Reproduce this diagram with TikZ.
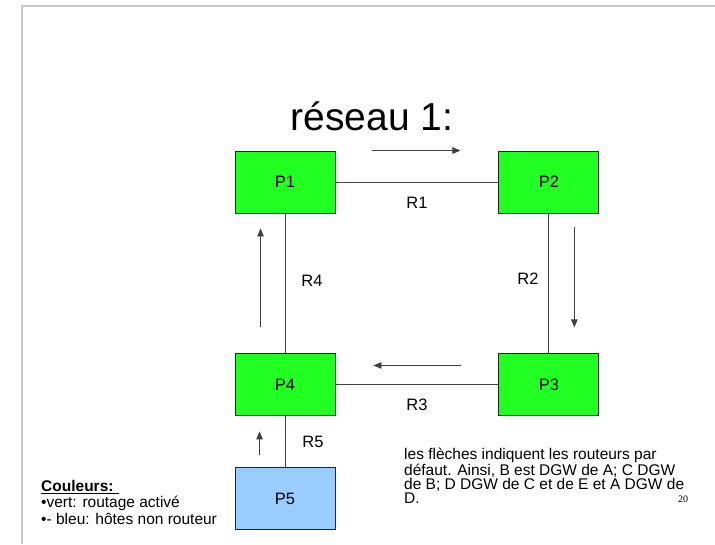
\documentclass[tikz,border=0pt]{standalone}
\usepackage{fontspec}
\setmainfont{Liberation Sans}
\newfontfamily\numfont{Liberation Serif}
\usetikzlibrary{positioning,calc,arrows.meta}
\definecolor{routergreen}{HTML}{22FF22}
\definecolor{hostblue}{HTML}{99CCFF}
\definecolor{framegray}{HTML}{C8C8C8}

\begin{document}
\begin{tikzpicture}[x=1pt, y=-1pt,
    box/.style={draw=black!85, line width=0.9pt, fill=routergreen, minimum width=100pt, minimum height=62pt, inner sep=0pt, font=\fontsize{16.5}{19}\selectfont},
    link/.style={draw=black!75, line width=0.9pt},
    lbl/.style={font=\fontsize{16.5}{19}\selectfont, inner sep=0pt},
    arrow/.style={-{Triangle[length=8pt,width=6.5pt]}, black!75, line width=0.8pt}
  ]
    \useasboundingbox (0,0) rectangle (715,544);
    \draw[framegray, line width=1.2pt] (22,544) -- (22,6) -- (715,6);

    \node[font=\fontsize{39}{44}\selectfont] (title) at (372,116) {réseau 1:};

    % routers
    \node[box] (p1) at (285,182) {P1};
    \node[box, right=163pt of p1] (p2) {P2};
    \node[box, below=140pt of p2] (p3) {P3};
    \node[box, below=140pt of p1] (p4) {P4};
    \node[box, fill=hostblue, below=51pt of p4] (p5) {P5};

    % links
    \draw[link] (p1) -- node[lbl, yshift=-21pt] {R1} (p2);
    \draw[link] (p2) -- node[lbl, xshift=-21pt, yshift=5pt] {R2} (p3);
    \draw[link] (p3) -- node[lbl, yshift=-20pt] {R3} (p4);
    \draw[link] (p4) -- node[lbl, xshift=27pt, yshift=3pt] {R4} (p1);
    \draw[link] (p5) -- node[lbl, xshift=28pt] {R5} (p4);

    % default routes
    \draw[arrow] ([xshift=37pt]p1.north east) -- ([xshift=-38pt]p2.north west);
    \draw[arrow] ([xshift=-25pt,yshift=-14pt]p2.south east) -- ([xshift=-25pt,yshift=26pt]p3.north east);
    \draw[arrow] ([xshift=-37pt,yshift=-12pt]p3.north west) -- ([xshift=38pt,yshift=-12pt]p4.north east);
    \draw[arrow] ([xshift=26pt,yshift=26pt]p4.north west) -- ([xshift=26pt,yshift=-15pt]p1.south west);
    \draw[arrow] ([xshift=25pt,yshift=12pt]p5.north west) -- ([xshift=25pt,yshift=-15pt]p4.south west);

    \node[anchor=north west, align=left, inner sep=0pt, font=\fontsize{15.5}{14}\selectfont] (note) at (404,448)
      {les flèches indiquent les routeurs par\\
       défaut. Ainsi, B est DGW de A; C DGW\\
       de B; D DGW de C et de E et A DGW de\\
       D.};
    \node[font=\numfont\fontsize{10}{12}\selectfont] (pagenum) at (683,499) {20};

    \node[anchor=north west, align=left, inner sep=0pt, font=\fontsize{15.5}{16.5}\selectfont] (legend) at (41,480)
      {\underline{\textbf{Couleurs: }}\\
       •vert: routage activé\\
       •- bleu: hôtes non routeur};
\end{tikzpicture}
\end{document}
